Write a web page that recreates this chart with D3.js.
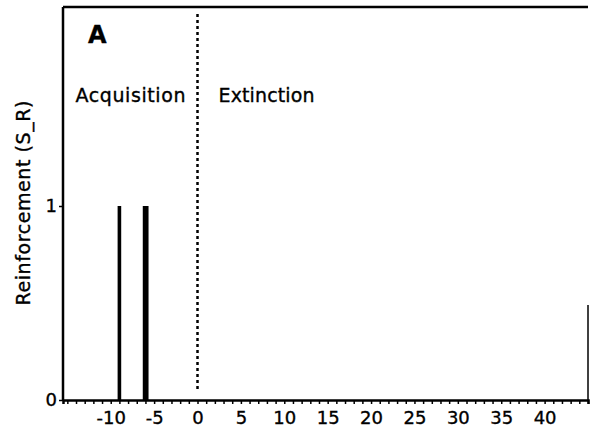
<!DOCTYPE html>
<html>
<head>
<meta charset="utf-8">
<script src="https://cdn.jsdelivr.net/npm/d3@7"></script>
<style>
  body { margin: 0; background: #fff; }
  text { font-family: "DejaVu Sans", sans-serif; fill: #000; stroke: #000; stroke-width: 0.35px; }
</style>
</head>
<body>
<div id="chart"></div>
<script>
// trials that got reinforced
const trials = [-9, -6.1, -5.85];
const reinforcement = [1, 1, 1];
const xTicks = [-10, -5, 0, 5, 10, 15, 20, 25, 30, 35, 40];
const yTicks = [0, 1];
const phaseLabels = ["Acquisition", "Extinction"];

const width = 590, height = 435;
const margin = {top: 7, right: 2, bottom: 35, left: 63};

let xScale = d3.scaleLinear()
    .domain([-15.5, 45])
    .range([margin.left, width - margin.right]);

let yScale = d3.scaleLinear()
    .domain([0, 2])
    .range([height - margin.bottom, 12]);

let svg = d3.select("#chart")
    .append("svg")
    .attr("width", width)
    .attr("height", height);

// frame: top and left, partial right
svg.append("line")
    .attr("x1", margin.left).attr("x2", width - margin.right)
    .attr("y1", margin.top).attr("y2", margin.top)
    .attr("stroke", "#000").attr("stroke-width", 2.5);
svg.append("line")
    .attr("x1", margin.left).attr("x2", margin.left)
    .attr("y1", margin.top).attr("y2", yScale(0))
    .attr("stroke", "#000").attr("stroke-width", 2.5);
svg.append("line")
    .attr("x1", width - margin.right).attr("x2", width - margin.right)
    .attr("y1", yScale(0.49)).attr("y2", yScale(0))
    .attr("stroke", "#000").attr("stroke-width", 1.5);

// bottom axis with minor ticks every trial
let minor = d3.range(-15, 46, 1);
let xAxis = d3.axisBottom(xScale)
    .tickValues(minor)
    .tickSize(4)
    .tickFormat("");
let xAxisGroup = svg.append("g")
    .attr("transform", "translate(0," + yScale(0) + ")")
    .call(xAxis);
xAxisGroup.select(".domain").attr("stroke-width", 2.5);
xAxisGroup.selectAll(".tick line").attr("stroke-width", 1.5);

let xLabels = d3.axisBottom(xScale)
    .tickValues(xTicks)
    .tickSize(0)
    .tickPadding(11)
    .tickFormat(d => String(d));
let xLabelGroup = svg.append("g")
    .attr("transform", "translate(0," + yScale(0) + ")")
    .call(xLabels);
xLabelGroup.select(".domain").remove();
xLabelGroup.selectAll("text")
    .style("font-size", "18px")
    .style("font-family", "DejaVu Sans, sans-serif");

let yAxis = d3.axisLeft(yScale)
    .tickValues(yTicks)
    .tickSize(4)
    .tickPadding(2)
    .tickFormat(d => String(d));
let yAxisGroup = svg.append("g")
    .attr("transform", "translate(" + margin.left + ",0)")
    .call(yAxis);
yAxisGroup.select(".domain").remove();
yAxisGroup.selectAll(".tick line").attr("stroke-width", 1.5);
yAxisGroup.selectAll("text")
    .style("font-size", "18px")
    .style("font-family", "DejaVu Sans, sans-serif");

// reinforcement pulses
let data = trials.map((t, i) => ({trial: t, value: reinforcement[i]}));
svg.selectAll(".bar")
    .data(data)
    .enter().append("rect")
    .attr("class", "bar")
    .attr("x", d => xScale(d.trial) - 1.8)
    .attr("y", d => yScale(d.value))
    .attr("width", 3.6)
    .attr("height", d => yScale(0) - yScale(d.value))
    .attr("fill", "#000");

// acquisition / extinction boundary
svg.append("line")
    .attr("x1", xScale(0)).attr("x2", xScale(0))
    .attr("y1", 14).attr("y2", yScale(0) - 8)
    .attr("stroke", "#000")
    .attr("stroke-width", 2.5)
    .attr("stroke-dasharray", "3,3");

svg.append("text")
    .attr("x", 88).attr("y", 43)
    .style("font-size", "24px")
    .style("font-weight", "bold")
    .text("A");

svg.append("text")
    .attr("x", xScale(0) - 12).attr("y", 102)
    .attr("text-anchor", "end")
    .attr("textLength", 110)
    .style("font-size", "19px")
    .text(phaseLabels[0]);
svg.append("text")
    .attr("x", xScale(0) + 21).attr("y", 102)
    .attr("textLength", 96)
    .style("font-size", "19px")
    .text(phaseLabels[1]);

svg.append("text")
    .attr("transform", "translate(30," + 203 + ") rotate(-90)")
    .attr("text-anchor", "middle")
    .attr("textLength", 205)
    .style("font-size", "19px")
    .text("Reinforcement (S_R)");
</script>
</body>
</html>
